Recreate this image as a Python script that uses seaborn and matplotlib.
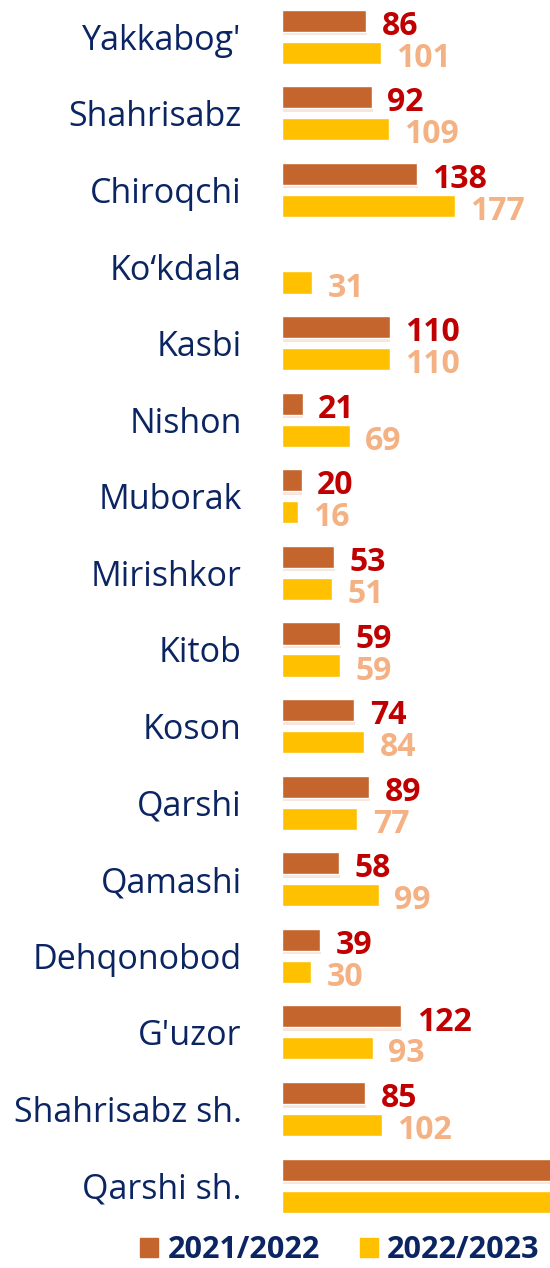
import pandas as pd
import matplotlib
matplotlib.use('Agg')
import matplotlib.pyplot as plt
import matplotlib.patheffects as pe
import seaborn as sns

districts = ["Yakkabog'", "Shahrisabz", "Chiroqchi", "Ko\u2018kdala", "Kasbi", "Nishon",
             "Muborak", "Mirishkor", "Kitob", "Koson", "Qarshi", "Qamashi",
             "Dehqonobod", "G'uzor", "Shahrisabz sh.", "Qarshi sh."]
y2021 = [86, 92, 138, None, 110, 21, 20, 53, 59, 74, 89, 58, 39, 122, 85, 300]
y2022 = [101, 109, 177, 31, 110, 69, 16, 51, 59, 84, 77, 99, 30, 93, 102, 300]
seasons = ["2021/2022", "2022/2023"]

bar_colors = ["#C4652D", "#FFC000"]
label_colors = ["#C00000", "#F4B183"]
navy = "#0B2462"

df = pd.DataFrame({
    "district": districts * 2,
    "value": y2021 + y2022,
    "season": [seasons[0]] * len(districts) + [seasons[1]] * len(districts),
})

sns.set_style("white")
plt.rcParams['font.family'] = ['Open Sans', 'DejaVu Sans']

fig = plt.figure(figsize=(5.5, 12.68), dpi=100)
ax = fig.add_axes([0.513, 0.042, 0.487, 0.958])

sns.barplot(data=df, y="district", x="value", hue="season", orient="h",
            palette=bar_colors, saturation=1, width=0.835, gap=0.31, ax=ax,
            legend=False, order=districts, hue_order=seasons)

ax.set_xlim(0, 274)
ax.set_ylim(15.38, -0.48)
ax.set_xlabel("")
ax.set_ylabel("")
ax.set_xticks([])
sns.despine(ax=ax, left=True, bottom=True)
ax.tick_params(axis="y", length=0, pad=29, labelsize=24.5, labelcolor=navy)

# soft shadow under the brown bars
for p in ax.containers[0]:
    p.set_path_effects([pe.withSimplePatchShadow(offset=(0.5, -2.5),
                                                  shadow_rgbFace="#F3D6C4",
                                                  alpha=0.6)])

for cont, col in zip(ax.containers, label_colors):
    for p in cont:
        v = p.get_width()
        if v != v:
            continue
        ax.annotate(f"{v:.0f}", xy=(v, p.get_y() + p.get_height() / 2),
                    xytext=(11, -4), textcoords="offset points",
                    va="center", ha="left", fontsize=23, fontweight="bold",
                    color=col)

handles = [plt.Rectangle((0, 0), 1, 1, color=c) for c in bar_colors]
fig.legend(handles, seasons, loc="center", bbox_to_anchor=(0.618, 0.014), ncol=2,
           frameon=False, handlelength=0.6, handleheight=0.6, handletextpad=0.3,
           columnspacing=1.3, prop={"weight": "bold", "size": 22}, labelcolor=navy)

fig.savefig("out.png", dpi=100)
